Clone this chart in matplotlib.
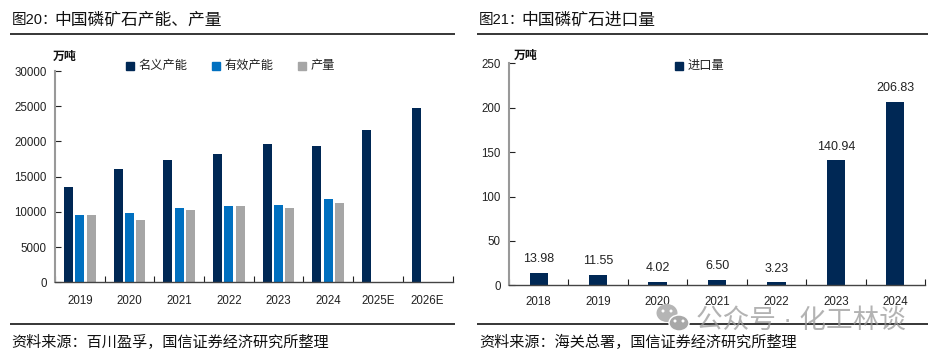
import numpy as np
import matplotlib.pyplot as plt
from matplotlib.patches import Ellipse

plt.rcParams["font.family"] = ["Liberation Sans", "Noto Sans CJK SC", "DejaVu Sans"]

W, H = 940, 357
NAVY = "#002855"
BLUE = "#0070c0"
GREY = "#a6a6a6"
TEXT = "#222222"

years_left = ["2019", "2020", "2021", "2022", "2023", "2024", "2025E", "2026E"]
nominal = [13530, 16040, 17400, 18170, 19590, 19350, 21620, 24700]
effective = [9510, 9790, 10590, 10790, 11020, 11830]
output = [9510, 8850, 10220, 10790, 10500, 11300]

years_right = ["2018", "2019", "2020", "2021", "2022", "2023", "2024"]
imports = [13.98, 11.55, 4.02, 6.50, 3.23, 140.94, 206.83]


def make_axes(x0, x1, y_top, y_zero):
    return fig.add_axes([x0 / W, 1 - y_zero / H, (x1 - x0) / W, (y_zero - y_top) / H])


def style_axes(ax, labels, xpad):
    n = len(labels)
    ax.set_xlim(-0.5, n - 0.5)
    for s in ["top", "right"]:
        ax.spines[s].set_visible(False)
    ax.spines["left"].set_color("#999999")
    ax.spines["left"].set_linewidth(1.5)
    ax.spines["bottom"].set_color("#444444")
    ax.spines["bottom"].set_linewidth(1.0)
    ax.set_xticks(np.arange(n))
    ax.set_xticklabels(labels)
    ax.set_xticks(np.arange(n + 1) - 0.5, minor=True)
    ax.tick_params(axis="x", which="major", length=0, pad=xpad, labelsize=8.3, labelcolor=TEXT)
    ax.tick_params(axis="x", which="minor", direction="in", length=4, width=0.8, color="#222222")
    ax.tick_params(axis="y", direction="in", length=4, width=0.8, color="#222222",
                   pad=6, labelsize=8.3, labelcolor=TEXT)
    ax.set_zorder(2)
    ax.patch.set_alpha(0)


fig = plt.figure(figsize=(W / 100, H / 100), dpi=100)

# overlay in pixel coordinates for rules, titles and footers
bg = fig.add_axes([0, 0, 1, 1])
bg.set_xlim(0, W)
bg.set_ylim(H, 0)
bg.axis("off")

# left chart
ax1 = make_axes(55, 452.5, 71, 282.3)
x = np.arange(len(years_left))
ax1.bar(x - 0.228, nominal, width=0.18, color=NAVY)
ax1.bar(x[:6], effective, width=0.18, color=BLUE)
ax1.bar(x[:6] + 0.228, output, width=0.18, color=GREY)
ax1.set_ylim(0, 30000)
ax1.set_yticks(np.arange(0, 30001, 5000))
style_axes(ax1, years_left, 9)

# right chart
ax2 = make_axes(509, 925, 63.3, 285.3)
x2 = np.arange(len(years_right))
bars = ax2.bar(x2, imports, width=0.31, color=NAVY)
ax2.set_ylim(0, 250)
ax2.set_yticks(np.arange(0, 251, 50))
style_axes(ax2, years_right, 8)
ax2.bar_label(bars, labels=[f"{v:.2f}" for v in imports], padding=5.5, fontsize=9, color=TEXT)

# legends
legend_text = [("名义产能", NAVY, 125.7), ("有效产能", BLUE, 212), ("产量", GREY, 298), ("进口量", NAVY, 675)]
for name, colour, px in legend_text:
    py = 65.5
    bg.plot([px + 4], [py], marker="s", markersize=6, color=colour, linestyle="none")
    bg.text(px + 13, py, name, fontsize=8.8, color=TEXT, va="center", ha="left")

bg.text(53, 57, "万吨", fontsize=8.6, fontweight="bold", color="#111111", va="center")
bg.text(514, 55.5, "万吨", fontsize=8.6, fontweight="bold", color="#111111", va="center")

# titles, rules, footers
for x0, x1, prefix, title, source in [
    (10, 455, "图20：", "中国磷矿石产能、产量", "资料来源：百川盈孚，国信证券经济研究所整理"),
    (477.3, 927.7, "图21：", "中国磷矿石进口量", "资料来源：海关总署，国信证券经济研究所整理"),
]:
    bg.plot([x0, x1], [34.3, 34.3], color="black", lw=1.1, solid_capstyle="butt")
    bg.plot([x0, x1], [324.3, 324.3], color="black", lw=1.1, solid_capstyle="butt")
    bg.text(x0 + 1.5, 20, prefix, fontsize=10.5, color="#111111", va="center", ha="left")
    bg.text(x0 + 44, 20, title, fontsize=12.1, color="#111111", va="center", ha="left")
    bg.text(x0 + 1.5, 342, source, fontsize=10.9, color="#111111", va="center", ha="left")

# watermark
wm = fig.add_axes([0, 0, 1, 1], zorder=5)
wm.set_xlim(0, W)
wm.set_ylim(H, 0)
wm.axis("off")
wm.add_patch(Ellipse((667, 313), 21, 18, fc="#b5b5b5", ec="none"))
wm.add_patch(Ellipse((679, 323), 20, 16, fc="#a8a8a8", ec="white", lw=1))
for ex, ey in [(663, 311), (671, 311), (675, 321), (683, 321)]:
    wm.add_patch(Ellipse((ex, ey), 3, 3, fc="white", ec="none"))
wm.text(696, 321, "公众号 · 化工林谈", fontsize=19.2, color="#9a9a9a", alpha=0.75, va="center", ha="left")

fig.savefig("out.png", dpi=100)
